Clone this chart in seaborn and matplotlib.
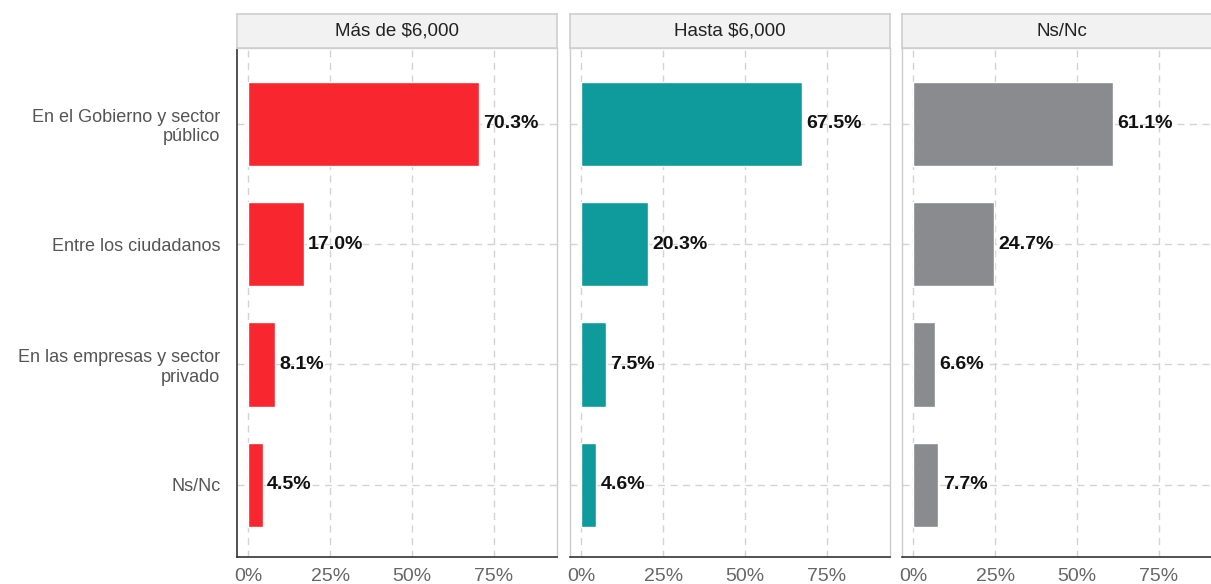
import matplotlib
matplotlib.use("Agg")
import matplotlib.pyplot as plt
import seaborn as sns
import pandas as pd
from matplotlib.ticker import FuncFormatter

categorias = ["En el Gobierno y sector\npúblico", "Entre los ciudadanos",
              "En las empresas y sector\nprivado", "Ns/Nc"]
paneles = ["Más de $6,000", "Hasta $6,000", "Ns/Nc"]
mas_6000 = [70.3, 17.0, 8.1, 4.5]
hasta_6000 = [67.5, 20.3, 7.5, 4.6]
ns_nc = [61.1, 24.7, 6.6, 7.7]
colores = ["#F8262F", "#0F9A9C", "#8A8B8F"]
ticks_x = [0, 25, 50, 75]

sns.set_theme(style="white")
plt.rcParams["font.family"] = ["Liberation Sans", "DejaVu Sans"]

fig = plt.figure(figsize=(12.11, 5.84), dpi=100)
W, H = 1211, 584
izq = [237, 570, 902]
ancho = 320
arriba, abajo = 48, 557

for i, (titulo, valores, color) in enumerate(zip(paneles, [mas_6000, hasta_6000, ns_nc], colores)):
    ax = fig.add_axes([izq[i] / W, (H - abajo) / H, ancho / W, (abajo - arriba) / H])
    df = pd.DataFrame({"cat": categorias, "val": valores})
    sns.barplot(data=df, x="val", y="cat", color=color, width=0.7, ax=ax,
                saturation=1, zorder=3)
    ax.set_xlim(-3.4, 94.2)
    ax.set_ylim(3.6, -0.63)
    ax.set_xticks(ticks_x)
    ax.xaxis.set_major_formatter(FuncFormatter(lambda v, p: f"{v:.0f}%"))
    ax.set_xlabel("")
    ax.set_ylabel("")
    ax.grid(True, axis="both", linestyle=(0, (5, 4)), color="#D3D3D3", linewidth=1, zorder=0)
    ax.set_axisbelow(True)
    ax.tick_params(axis="x", labelsize=14, labelcolor="#666666", length=0, pad=8)
    if i == 0:
        ax.tick_params(axis="y", labelsize=13, labelcolor="#555555", length=0, pad=12)
    else:
        ax.set_yticklabels([])
        ax.tick_params(axis="y", length=0)
    for lado in ["top", "right", "left"]:
        ax.spines[lado].set_color("#CCCCCC")
        ax.spines[lado].set_linewidth(1)
    ax.spines["bottom"].set_color("#333333")
    ax.spines["bottom"].set_linewidth(1.2)
    if i == 0:
        ax.spines["left"].set_color("#333333")
        ax.spines["left"].set_linewidth(1.2)
    for j, v in enumerate(valores):
        ax.text(v + 1.3, j, f"{v:.1f}%", va="center", ha="left", fontsize=14,
                fontweight="bold", color="#111111", zorder=4)
    # franja del panel
    sax = fig.add_axes([izq[i] / W, (H - arriba) / H, ancho / W, 34 / H])
    sax.set_xticks([])
    sax.set_yticks([])
    sax.set_facecolor("#F2F2F2")
    for lado in sax.spines.values():
        lado.set_color("#D0D0D0")
    sax.text(0.5, 0.5, titulo, ha="center", va="center", fontsize=13.5,
             color="#222222", transform=sax.transAxes)

fig.savefig("out.png", dpi=100)
